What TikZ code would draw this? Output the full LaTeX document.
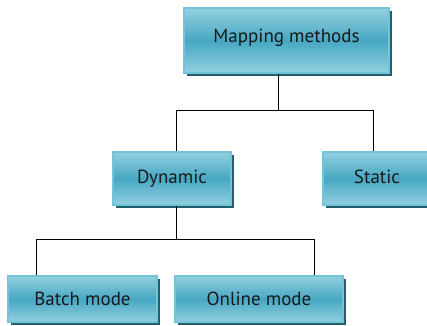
\documentclass[tikz,border=0pt]{standalone}
\usepackage{fontspec}
\setmainfont{PT Sans}
\usetikzlibrary{shadows}
\definecolor{boxlight}{HTML}{93D0E0}
\definecolor{boxmid}{HTML}{47A7C3}
\definecolor{boxedge}{HTML}{72C4D9}
\definecolor{boxshadow}{HTML}{245F6E}
\tikzset{
  box/.style={rectangle, draw=boxedge, line width=1.4pt, top color=boxlight, bottom color=boxlight, middle color=boxmid,
    drop shadow={shadow xshift=3pt, shadow yshift=-3pt, fill=boxshadow, opacity=1},
    font=\fontsize{19}{21}\selectfont, text=black!90, inner sep=0pt},
  conn/.style={draw=black, line width=1pt}
}
\begin{document}
\begin{tikzpicture}[x=1pt,y=-1pt]
\useasboundingbox (0,0) rectangle (427,325);
\begin{scope}
\clip (0,0) rectangle (427,325);
\node[box, minimum width=205pt, minimum height=65pt] (top) at (286.5,40.5) {\raisebox{9pt}{Mapping methods}};
\node[box, minimum width=118pt, minimum height=53pt] (dyn) at (172,178.5) {\raisebox{3pt}{Dynamic}};
\node[box, minimum width=108pt, minimum height=53pt] (sta) at (377,178.5) {\raisebox{3pt}{Static}};
\node[box, minimum width=149pt, minimum height=46pt] (bat) at (82.5,299) {Batch mode};
\node[box, minimum width=168pt, minimum height=46pt] (onl) at (259,299) {Online mode};
\end{scope}
\coordinate (j1) at (278,110);
\coordinate (jd) at (176,110);
\coordinate (js) at (373,110);
\coordinate (j2) at (176,239);
\coordinate (jb) at (36,239);
\coordinate (jo) at (314,239);
\draw[conn] (top.south -| j1) -- (j1);
\draw[conn] (dyn.north -| jd) -- (jd) -- (js) -- (sta.north -| js);
\draw[conn] (dyn.south -| j2) -- (j2);
\draw[conn] (bat.north -| jb) -- (jb) -- (jo) -- (onl.north -| jo);
\end{tikzpicture}
\end{document}
